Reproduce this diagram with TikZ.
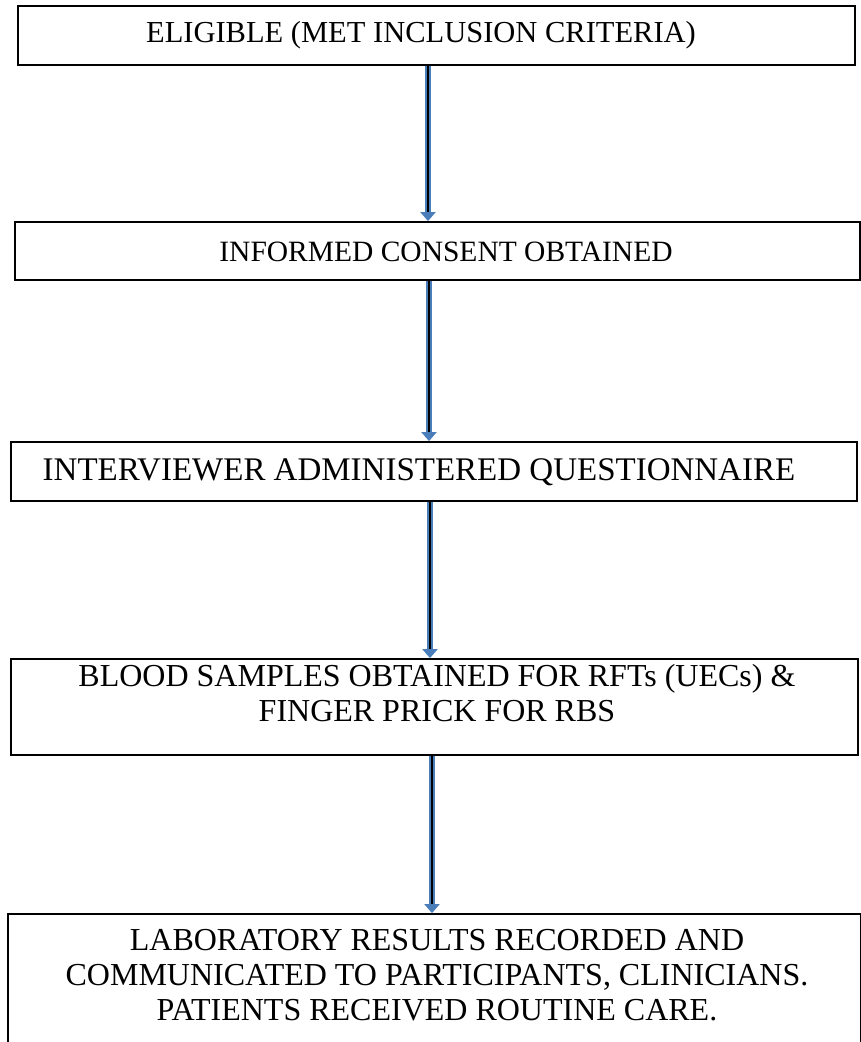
\documentclass[tikz,border=0pt]{standalone}
\usepackage{fontspec}
\setmainfont{Liberation Serif}
\usetikzlibrary{arrows.meta}
\definecolor{arrowblue}{HTML}{4A7EBB}
\tikzset{
  box/.style={draw=black, line width=1.8pt, fill=white, inner sep=0pt},
  label/.style={align=center, inner sep=0pt},
  flowshaft/.style={draw=arrowblue, line width=6pt, -{Triangle[length=9pt,width=15pt]}},
  flowcore/.style={draw=black, line width=2pt, shorten >=9pt},
}
\begin{document}
\begin{tikzpicture}[x=1pt,y=-1pt]
\clip (0,0) rectangle (861,1042);
\useasboundingbox (0,0) rectangle (861,1042);
\node[box, minimum width=837pt, minimum height=59pt] (b1) at (436.5,35.5) {};
\node[box, minimum width=845pt, minimum height=58pt] (b2) at (437.5,251) {};
\node[box, minimum width=846pt, minimum height=59pt] (b3) at (434,471.5) {};
\node[box, minimum width=847pt, minimum height=96pt] (b4) at (434.5,707) {};
\node[box, minimum width=853pt, minimum height=136pt] (b5) at (434.5,982) {};
\node[label, font=\fontsize{30.5}{36}\selectfont] (t1) at (421,35.5) {ELIGIBLE (MET INCLUSION CRITERIA)};
\node[label, font=\fontsize{29.5}{36}\selectfont] (t2) at (446,251.5) {INFORMED CONSENT OBTAINED};
\node[label, font=\fontsize{33}{36}\selectfont] (t3) at (419,472) {INTERVIEWER ADMINISTERED QUESTIONNAIRE};
\node[label, font=\fontsize{32}{35}\selectfont] (t4) at (437,693) {BLOOD SAMPLES OBTAINED FOR RFTs (UECs) \&\\FINGER PRICK FOR RBS};
\node[label, font=\fontsize{32}{35}\selectfont] (t5) at (437,975) {LABORATORY RESULTS RECORDED AND\\COMMUNICATED TO PARTICIPANTS, CLINICIANS.\\PATIENTS RECEIVED ROUTINE CARE.};
\coordinate (x1) at (428,0);
\coordinate (x2) at (429,0);
\coordinate (x3) at (430,0);
\coordinate (x4) at (432,0);
\foreach \u/\v/\c in {b1/b2/x1, b2/b3/x2, b3/b4/x3, b4/b5/x4}{
  \draw[flowshaft] (\u.south -| \c) -- (\v.north -| \c);
  \draw[flowcore] (\u.south -| \c) -- (\v.north -| \c);
}
\end{tikzpicture}
\end{document}
